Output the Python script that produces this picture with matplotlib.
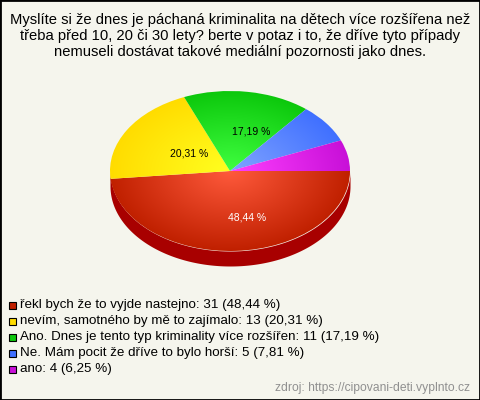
import numpy as np
from matplotlib import pyplot as plt
from matplotlib.colors import to_rgb

title_lines = ["Myslíte si že dnes je páchaná kriminalita na dětech více rozšířena než",
               "třeba před 10, 20 či 30 lety? berte v potaz i to, že dříve tyto případy",
               "nemuseli dostávat takové mediální pozornosti jako dnes."]
categories = ["řekl bych že to vyjde nastejno", "nevím, samotného by mě to zajímalo",
              "Ano. Dnes je tento typ kriminality více rozšířen",
              "Ne. Mám pocit že dříve to bylo horší", "ano"]
votes = [31, 13, 11, 5, 4]
percents = ["48,44 %", "20,31 %", "17,19 %", "7,81 %", "6,25 %"]
source = "zdroj: https://cipovani-deti.vyplnto.cz"

inner_colors = ["#ff5a3c", "#ffff20", "#40ff40", "#80a4ff", "#ff40ff"]
edge_colors = ["#c02000", "#ffdc00", "#0cc80c", "#4070ff", "#c810d8"]
side_color = "#a80000"
bg = "#f5f5ed"

plt.rcParams["font.family"] = ["Liberation Sans", "DejaVu Sans"]

fig = plt.figure(figsize=(4.8, 4), dpi=100, facecolor=bg)
ax = fig.add_axes([0, 0, 1, 1])
ax.patch.set_visible(False)
ax.set_xlim(0, 480)
ax.set_ylim(400, 0)
ax.set_xticks([])
ax.set_yticks([])
for s in ax.spines.values():
    s.set_linewidth(2)
    s.set_color("black")

# pie box in pixels: x 110-350, y 91-251
pie_ax = fig.add_axes([110 / 480, 1 - 251 / 400, 240 / 480, 160 / 400])
wedges, _ = pie_ax.pie(votes, startangle=0, counterclock=False, radius=1, center=(0, 0))
pie_ax.set_aspect("auto")

# rim of the lower half, only the part facing the viewer
depth = 15 / 80
t = np.linspace(0, np.pi, 200)
pie_ax.fill_between(np.cos(t), -np.sin(t), -np.sin(t) - depth, color=side_color, lw=0, clip_on=False)

# radial gradient per slice, clipped to the wedge
grid = np.linspace(-1, 1, 400)
xx, yy = np.meshgrid(grid, grid)
rr = np.clip(np.hypot(xx, yy), 0, 1)[..., None]
for w, c0, c1 in zip(wedges, inner_colors, edge_colors):
    img = np.array(to_rgb(c0)) * (1 - rr) + np.array(to_rgb(c1)) * rr
    im = pie_ax.imshow(img, extent=(-1, 1, -1, 1), origin="lower", aspect="auto", zorder=2,
                       interpolation="bilinear")
    w.set_facecolor("none")
    w.set_edgecolor("none")
    im.set_clip_path(w)
pie_ax.set_xlim(-1, 1)
pie_ax.set_ylim(-1, 1)
pie_ax.set_aspect("auto")
pie_ax.axis("off")

ax.set_zorder(2)
pie_ax.set_zorder(1)

for i, line in enumerate(title_lines):
    ax.text(240, 20 + 16 * i, line, ha="center", va="center", fontsize=10.6, color="black")

label_pos = [(247, 217), (189, 154), (251, 131)]
label_colors = ["white", "black", "black"]
for p, xy, c in zip(percents, label_pos, label_colors):
    ax.text(xy[0], xy[1], p, ha="center", va="center", fontsize=7.5, color=c)

for i, (cat, n, p) in enumerate(zip(categories, votes, percents)):
    y = 305 + 16 * i
    ax.add_patch(plt.Rectangle((9, y - 3.5), 7, 7, facecolor=edge_colors[i], edgecolor="black", lw=0.8))
    ax.text(20, y, "{}: {} ({})".format(cat, n, p), ha="left", va="center", fontsize=9.65, color="black")

ax.text(470, 388.5, source, ha="right", va="center", fontsize=8.7, color="#909090")

fig.savefig("out.png", dpi=100, facecolor=bg)
